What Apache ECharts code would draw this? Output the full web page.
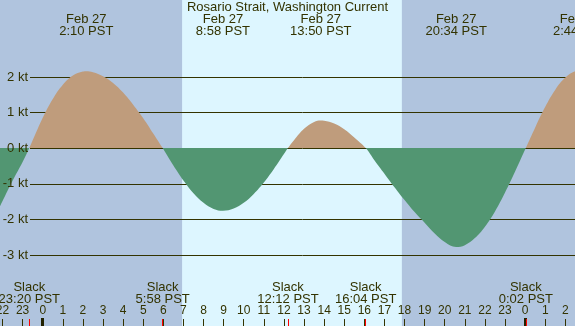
<!DOCTYPE html>
<html>
<head>
<meta charset="utf-8">
<script src="https://cdn.jsdelivr.net/npm/echarts@6/dist/echarts.min.js"></script>
<style>
html, body { margin: 0; padding: 0; background: #b0c4de; }
#chart { width: 575px; height: 326px; }
</style>
</head>
<body>
<div id="chart"></div>
<script>
// hours from midnight Feb 27 (negative = Feb 26, >24 = Feb 28)
var hours = [-2.125, -1.5, -1, -0.667, 0, 0.5, 1, 1.5, 2, 2.167, 2.5, 3, 3.5, 4, 4.5, 5, 5.5, 5.967,
	6.5, 7, 7.5, 8, 8.5, 8.967, 9.5, 10, 10.5, 11, 11.5, 12, 12.2, 12.5, 13, 13.5, 13.833, 14, 14.5, 15, 15.5, 16.067,
	16.5, 17, 17.5, 18, 18.5, 19, 19.5, 20, 20.567, 21, 21.5, 22, 22.5, 23, 23.5, 24.033,
	24.5, 25, 25.5, 26, 26.5, 26.733];
var knots = [-1.64, -0.92, -0.39, 0, 0.85, 1.38, 1.78, 2.04, 2.15, 2.16, 2.13, 2.02, 1.83, 1.56, 1.22, 0.84, 0.41, 0,
	-0.49, -0.91, -1.27, -1.54, -1.71, -1.76, -1.70, -1.54, -1.29, -0.97, -0.59, -0.17, 0, 0.22, 0.54, 0.735, 0.775, 0.77, 0.69, 0.53, 0.30, 0,
	-0.34, -0.72, -1.10, -1.46, -1.80, -2.10, -2.40, -2.64, -2.78, -2.73, -2.53, -2.21, -1.78, -1.25, -0.66, 0,
	0.58, 1.16, 1.64, 1.98, 2.16, 2.18];

var extremeTimes = ['2:10', '8:58', '13:50', '20:34', '2:44'];
var extremeDays = [0, 0, 0, 0, 1];
var extremeDates = ['Feb 27', 'Feb 27', 'Feb 27', 'Feb 27', 'Feb 28'];

var slackTimes = ['23:20', '5:58', '12:12', '16:04', '0:02'];
var slackDays = [-1, 0, 0, 0, 1];

var daylight = ['6:56', '17:52'];
var hourTicks = [-2, -1, 0, 1, 2, 3, 4, 5, 6, 7, 8, 9, 10, 11, 12, 13, 14, 15, 16, 17, 18, 19, 20, 21, 22, 23, 24, 25, 26];
var midnights = [0, 24];

var TXT = '#333300';
var FONT = 'Liberation Sans, Arial, sans-serif';

function toHours(s, day) {
	var p = s.split(':');
	return day * 24 + parseInt(p[0], 10) + parseInt(p[1], 10) / 60;
}

var curve = hours.map(function(h, i) { return [h, knots[i]]; });
var extremeData = extremeTimes.map(function(t, i) { return [toHours(t, extremeDays[i]), i]; });
var slackHours = slackTimes.map(function(t, i) { return toHours(t, slackDays[i]); });
var slackData = slackHours.map(function(h, i) { return [h, i]; });
var dayData = [[toHours(daylight[0], 0), toHours(daylight[1], 0)]];

var xMin = -2.125, xMax = 26.48;

function tickAxis(values, color, width, len, z) {
	return {
		type: 'value', gridIndex: 0, min: xMin, max: xMax, position: 'bottom', z: z,
		axisLine: { show: false, onZero: false }, splitLine: { show: false }, axisLabel: { show: false },
		axisTick: { show: true, inside: true, length: len, customValues: values, lineStyle: { color: color, width: width } }
	};
}

function knotAxis(lines, labels, z) {
	return {
		type: 'value', gridIndex: 1, position: 'left', offset: 0, min: -3, max: 2, interval: 1, z: z,
		axisLine: { show: false, onZero: false }, axisTick: { show: false },
		splitLine: { show: lines, lineStyle: { color: TXT, width: 1 } },
		axisLabel: { show: labels, margin: 2, color: TXT, fontFamily: FONT, fontSize: 13, formatter: '{value} kt' }
	};
}

var myChart = echarts.init(document.getElementById('chart'));
var option = {
	backgroundColor: '#b0c4de',
	animation: false,
	title: {
		text: 'Rosario Strait, Washington Current',
		left: 'center', top: 1, padding: 0, z: 10,
		textStyle: { color: TXT, fontFamily: FONT, fontSize: 13, fontWeight: 'normal', lineHeight: 13 }
	},
	grid: [
		{ left: 0, right: 0, top: 0, bottom: 0, outerBoundsMode: 'none', containLabel: false },
		{ left: 30, right: 0, top: 77, bottom: 71, outerBoundsMode: 'none', containLabel: false }
	],
	xAxis: [
		{
			type: 'value', gridIndex: 0, min: xMin, max: xMax, position: 'bottom', z: 1,
			axisLine: { show: false, onZero: false }, splitLine: { show: false },
			axisTick: { show: true, inside: true, length: 7, customValues: hourTicks, lineStyle: { color: TXT, width: 1 } },
			axisLabel: {
				show: true, inside: true, margin: 9, customValues: hourTicks, hideOverlap: false,
				color: TXT, fontFamily: FONT, fontSize: 12,
				formatter: function(v) { return String(((v % 24) + 24) % 24); }
			}
		},
		tickAxis(midnights, '#222200', 3, 8, 2),
		tickAxis(slackHours, '#ff0000', 1, 7, 3),
		{ type: 'value', gridIndex: 1, min: xMin, max: xMax, show: false }
	],
	yAxis: [
		{ type: 'value', gridIndex: 0, min: -5, max: 4.16, show: false },
		knotAxis(true, false, 0),
		knotAxis(false, true, 10)
	],
	visualMap: {
		show: false, type: 'piecewise', seriesIndex: 1, dimension: 1,
		pieces: [{ min: -10, max: 0, color: '#529672' }, { gt: 0, max: 10, color: '#bf9c7c' }]
	},
	series: [
		{
			type: 'custom', z: -1, xAxisIndex: 0, yAxisIndex: 0, silent: true,
			data: dayData,
			renderItem: function(params, api) {
				var a = api.coord([api.value(0), 0]);
				var b = api.coord([api.value(1), 0]);
				return { type: 'rect', shape: { x: a[0], y: 0, width: b[0] - a[0], height: params.coordSys.height }, style: { fill: '#ddf6ff' } };
			}
		},
		{
			type: 'line', xAxisIndex: 0, yAxisIndex: 0, data: curve, smooth: 0.4,
			showSymbol: false, silent: true,
			lineStyle: { width: 0 },
			areaStyle: { opacity: 1 }
		},
		{
			type: 'custom', xAxisIndex: 0, yAxisIndex: 0, silent: true, z: 5,
			data: extremeData,
			renderItem: function(params, api) {
				var i = api.value(1);
				var p = api.coord([api.value(0), 0]);
				return { type: 'text', x: p[0], y: 13.5, style: {
					text: extremeDates[i] + '\n' + extremeTimes[i] + ' PST',
					align: 'center', verticalAlign: 'top', lineHeight: 12,
					fill: TXT, font: '13px ' + FONT } };
			}
		},
		{
			type: 'custom', xAxisIndex: 0, yAxisIndex: 0, silent: true, z: 5,
			data: slackData,
			renderItem: function(params, api) {
				var i = api.value(1);
				var p = api.coord([api.value(0), 0]);
				return { type: 'text', x: p[0], y: 281.3, style: {
					text: 'Slack\n' + slackTimes[i] + ' PST',
					align: 'center', verticalAlign: 'top', lineHeight: 12,
					fill: TXT, font: '13px ' + FONT } };
			}
		}
	]
};
myChart.setOption(option);
</script>
</body>
</html>
